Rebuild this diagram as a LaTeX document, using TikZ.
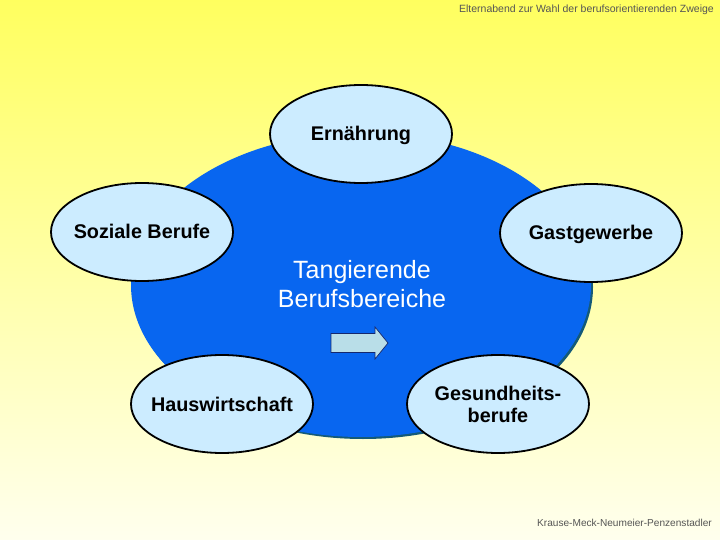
\documentclass[tikz,border=0pt]{standalone}
\usepackage{fontspec}
\setmainfont{Liberation Sans}
\usetikzlibrary{shapes.geometric}
\definecolor{bgtop}{RGB}{255,255,95}
\definecolor{bgbot}{RGB}{255,255,238}
\definecolor{bigblue}{RGB}{8,102,240}
\definecolor{shadowc}{RGB}{20,90,120}
\definecolor{lightblue}{RGB}{204,236,255}
\definecolor{arrowfill}{RGB}{185,222,232}
\definecolor{arrowline}{RGB}{20,40,110}
\definecolor{graytext}{RGB}{85,85,85}
\tikzset{
  topic/.style={ellipse, draw=black, line width=1.8pt, fill=lightblue,
    minimum width=182pt, minimum height=98pt, inner xsep=-30pt, inner ysep=0pt,
    font=\fontsize{19.8}{22}\selectfont\bfseries, align=center, text=black},
  oneline/.style={text height=14pt, text depth=0pt},
  note/.style={font=\fontsize{10.5}{12}\selectfont, text=graytext, inner sep=0pt},
  blockarrow/.style={draw=arrowline, line width=0.7pt, fill=arrowfill, line join=miter}
}
\begin{document}
\begin{tikzpicture}[x=1pt,y=-1pt]
\useasboundingbox (0,0) rectangle (720,540);
\shade[top color=bgtop, bottom color=bgbot] (0,0) rectangle (720,540);
% big ellipse with shadow
\fill[shadowc] (363,287) ellipse [x radius=230, y radius=152];
\node[ellipse, fill=bigblue, minimum width=460pt, minimum height=304pt, inner sep=0pt] (core) at (361,285) {};
\node[text=white, font=\fontsize{25}{28.5}\selectfont, align=center] (title) at (362,284) {Tangierende\\Berufsbereiche};
\coordinate (arr) at (359.5,343);
\draw[blockarrow] ([shift={(-28.5,-9.5)}]arr) -- ([shift={(15.5,-9.5)}]arr) -- ([shift={(15.5,-16)}]arr)
  -- ([shift={(28.5,0)}]arr) -- ([shift={(15.5,16)}]arr) -- ([shift={(15.5,9.5)}]arr)
  -- ([shift={(-28.5,9.5)}]arr) -- cycle;
% topics
\node[topic, oneline] (ern) at (361,134) {Ernährung};
\node[topic, oneline] (soz) at (142,232) {Soziale Berufe};
\node[topic, oneline] (gast) at (591,233) {Gastgewerbe};
\node[topic, oneline] (haus) at (222,404) {Hauswirtschaft};
\node[topic] (ges) at (498,404) {Gesundheits-\\berufe};
% header / footer
\node[note, anchor=east] (hdr) at (714,10) {Elternabend zur Wahl der berufsorientierenden Zweige};
\node[note, anchor=east, font=\fontsize{10.1}{12}\selectfont] (ftr) at (712,523) {Krause-Meck-Neumeier-Penzenstadler};
\end{tikzpicture}
\end{document}
